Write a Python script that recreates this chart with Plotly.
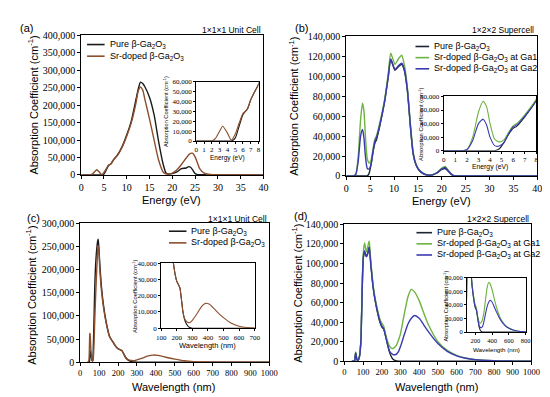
import plotly.graph_objects as go

# ---------------- data ----------------
# (a) 1x1x1 unit cell, energy axis
energy_a = [0, 2, 2.5, 3, 3.4, 4, 4.5, 5, 5.5, 6, 6.3, 6.6, 7, 7.5, 8, 9, 10, 11, 12, 12.5, 13,
            13.5, 14, 15, 16, 17, 18, 18.6, 19, 20, 21, 22, 23, 23.6, 24, 24.5, 25, 25.5, 26,
            27, 28, 29, 30, 40]
pure_a = [0, 0, 0, 0, 0, 0, 0, 3000, 15000, 27000, 30000, 33000, 42000, 50000, 58000, 82000,
          115000, 155000, 215000, 245000, 266000, 262000, 252000, 222000, 172000, 95000, 30000,
          6000, 3000, 4000, 9000, 18000, 20000, 24000, 22000, 14000, 4000, 1000, 500, 500, 300,
          200, 0, 0]
sr_a = [0, 0, 3000, 10000, 15000, 8000, 1000, 7000, 18000, 28000, 30000, 33000, 42000, 50000,
        57000, 80000, 112000, 150000, 205000, 240000, 252000, 243000, 215000, 160000, 100000,
        42000, 8000, 3000, 2000, 5000, 15000, 30000, 48000, 58000, 62000, 62000, 52000, 35000,
        18000, 5000, 2000, 800, 0, 0]

# (b) 1x2x2 supercell, energy axis
energy_b = [0, 1.5, 2, 2.5, 3, 3.4, 3.7, 4, 4.4, 4.8, 5.2, 5.6, 6, 6.3, 7, 8, 8.8, 9.3, 10.2,
            11, 11.6, 12.2, 12.8, 13.5, 14, 14.6, 15.2, 16, 17, 18, 19, 20, 20.7, 21.3, 22,
            22.5, 24, 40]
pure_b = [0, 0, 0, 0, 0, 0, 0, 0, 0, 3000, 12000, 24000, 33000, 36000, 50000, 74000, 100000,
          117000, 106000, 110000, 112000, 105000, 85000, 45000, 22000, 11000, 6000, 2500, 800,
          1000, 3000, 6500, 7500, 5000, 1500, 300, 0, 0]
ga1_b = [0, 0, 2000, 20000, 57000, 73000, 65000, 40000, 17000, 13000, 16000, 27000, 37000,
         40000, 53000, 76000, 103000, 123000, 112000, 118000, 121000, 110000, 88000, 48000,
         24000, 12000, 6500, 3000, 1000, 1200, 3500, 8000, 9500, 6000, 2000, 400, 0, 0]
ga2_b = [0, 0, 1500, 15000, 40000, 46500, 38000, 20000, 7500, 7000, 12000, 25000, 35000,
         38000, 51000, 74000, 100000, 117000, 107000, 111000, 113000, 106000, 86000, 46000,
         23000, 11500, 6200, 2800, 900, 1100, 3200, 7000, 8500, 5500, 1800, 350, 0, 0]

# (c) 1x1x1 unit cell, wavelength axis
wl_c = [40, 44, 46, 47.7, 48.6, 49.6, 50.6, 51.7, 52.5, 54, 56, 59, 62, 65, 67, 69, 73, 77.5,
        83, 89, 92, 95, 99, 103, 113, 124, 138, 155, 177, 190, 200, 210, 220, 230, 240, 250,
        260, 270, 280, 290, 300, 320, 340, 360, 385, 410, 440, 470, 500, 550, 600, 650, 700,
        800, 1000]
pure_c = [0, 300, 400, 500, 1000, 4000, 14000, 22000, 24000, 20000, 18000, 9000, 4000, 3000,
          6000, 30000, 95000, 172000, 222000, 252000, 262000, 266000, 245000, 215000, 160000,
          120000, 85000, 56000, 41000, 33000, 29000, 27000, 25000, 18000, 10000, 5500, 3000,
          1500, 600, 200, 0, 0, 0, 0, 0, 0, 0, 0, 0, 0, 0, 0, 0, 0, 0]
sr_c = [0, 2000, 5000, 18000, 35000, 52000, 62000, 62000, 58000, 48000, 30000, 15000, 5000,
        2000, 3000, 8000, 42000, 100000, 160000, 215000, 243000, 252000, 240000, 205000,
        152000, 116000, 83000, 55000, 41000, 33000, 29000, 27000, 25000, 18000, 10000, 6000,
        4500, 3700, 3400, 3800, 4800, 7500, 10500, 13500, 15300, 14700, 12000, 9000, 6500,
        3000, 1200, 400, 100, 0, 0]

# (d) 1x2x2 supercell, wavelength axis
wl_d = [40, 52, 55, 58, 60, 62, 65, 69, 73, 78, 82, 85, 89, 92, 97, 101, 108, 118, 126, 133,
        141, 148, 155, 165, 177, 190, 200, 210, 220, 230, 240, 250, 260, 270, 280, 290, 300,
        320, 340, 358, 375, 400, 425, 450, 500, 550, 600, 650, 700, 800, 900, 1000]
pure_d = [0, 0, 300, 4000, 8000, 7000, 3500, 1000, 800, 2500, 6000, 11000, 22000, 45000, 85000,
          105000, 112000, 107000, 111000, 117000, 100000, 86000, 74000, 62000, 50000, 40000,
          35000, 33000, 26000, 18000, 10000, 5000, 2000, 800, 200, 0, 0, 0, 0, 0, 0, 0, 0, 0,
          0, 0, 0, 0, 0, 0, 0, 0]
ga1_d = [0, 0, 400, 5000, 9500, 8000, 4000, 1200, 1000, 3000, 6500, 12000, 24000, 48000, 88000,
         110000, 121000, 112000, 118000, 123000, 103000, 89000, 76000, 64000, 53000, 43000,
         39000, 36000, 28000, 21000, 16000, 13500, 13000, 14500, 17000, 22000, 28000, 48000,
         66000, 73500, 71000, 62000, 49000, 37000, 20000, 11000, 6000, 3000, 1500, 400, 100, 0]
ga2_d = [0, 0, 350, 4500, 8500, 7500, 3800, 1100, 900, 2800, 6200, 11500, 23000, 46000, 86000,
         106000, 113000, 107000, 111000, 117000, 100000, 86000, 74000, 62000, 51000, 41000,
         36000, 33500, 26000, 18000, 11000, 8000, 6800, 6600, 7500, 10000, 15000, 27000, 38000,
         44000, 46800, 44000, 37000, 30000, 18000, 10000, 5500, 3000, 1500, 400, 100, 0]

# labels
lbl_pure = "Pure β-Ga<sub>2</sub>O<sub>3</sub>"
lbl_sr = "Sr-doped β-Ga<sub>2</sub>O<sub>3</sub>"
lbl_ga1 = "Sr-doped β-Ga<sub>2</sub>O<sub>3</sub> at Ga1"
lbl_ga2 = "Sr-doped β-Ga<sub>2</sub>O<sub>3</sub> at Ga2"
ytitle = "Absorption Coefficient (cm<sup>-1</sup>)"

# ---------------- styling ----------------
W, H = 550, 397
C_PURE = "#1a1a1a"
C_PURE2 = "#1c2433"
C_SR = "#8c4f2e"
C_GA1 = "#6cb33f"
C_GA2 = "#3a3ab0"
SANS = "Liberation Sans"
SERIF = "Liberation Serif"


def X(px):
    return px / W


def Y(py):
    return 1 - py / H


fig = go.Figure()

# axes: (id, x px range, y px range, xrange, xdtick, yrange, ydtick, y font, x font, xtick0)
axes = [
    (1, (70, 257), (22, 166), [0, 40], 5, [0, 400000], 50000, 10, 10, 0),
    (2, (342, 538), (23, 167), [0, 40], 5, [0, 140000], 20000, 10, 10, 0),
    (3, (69, 263), (216, 359), [0, 1000], 100, [0, 300000], 50000, 10, 8.5, 0),
    (4, (340, 532), (217, 358), [0, 1000], 100, [0, 140000], 20000, 10, 8.5, 0),
    (5, (188, 252), (70, 131), [0, 8], 1, [0, 60000], 10000, 7, 7, 0),
    (6, (442, 537), (85, 141), [0, 8], 1, [0, 80000], 20000, 7, 7, 0),
    (7, (152, 248), (257, 324), [100, 700], 100, [0, 40000], 10000, 7, 7, 0),
    (8, (466, 526), (272, 328), [100, 800], 200, [0, 80000], 20000, 6.5, 6.5, 200),
]

for (i, xp, yp, xr, dx, yr, dy, yfs, xfs, x0) in axes:
    sfx = "" if i == 1 else str(i)
    common = dict(showgrid=False, zeroline=False, showline=True, linecolor="black",
                  linewidth=1, mirror=True, ticks="outside", ticklen=3 if i <= 4 else 2,
                  tickwidth=1, tickcolor="black")
    fig.layout["xaxis" + sfx] = dict(
        domain=[X(xp[0]), X(xp[1])], range=xr, dtick=dx, tick0=x0,
        anchor="y" + sfx, tickfont=dict(family=SERIF, size=xfs, color="black"), **common)
    fig.layout["yaxis" + sfx] = dict(
        domain=[Y(yp[1]), Y(yp[0])], range=yr, dtick=dy, tickformat=",d",
        anchor="x" + sfx, tickfont=dict(family=SERIF, size=yfs, color="black"), **common)


def add(x, y, color, ax, width=1.4):
    sfx = "" if ax == 1 else str(ax)
    fig.add_trace(go.Scatter(x=x, y=y, mode="lines", showlegend=False,
                             line=dict(color=color, width=width, shape="spline", smoothing=0.6),
                             xaxis="x" + sfx, yaxis="y" + sfx, hoverinfo="skip"))


for ax, w in ((1, 1.4), (5, 1.1)):
    add(energy_a, pure_a, C_PURE, ax, w)
    add(energy_a, sr_a, C_SR, ax, w)
for ax, w in ((2, 1.4), (6, 1.1)):
    add(energy_b, pure_b, C_PURE2, ax, w)
    add(energy_b, ga1_b, C_GA1, ax, w)
    add(energy_b, ga2_b, C_GA2, ax, w)
for ax, w in ((3, 1.4), (7, 1.1)):
    add(wl_c, pure_c, C_PURE, ax, w)
    add(wl_c, sr_c, C_SR, ax, w)
for ax, w in ((4, 1.4), (8, 1.1)):
    add(wl_d, pure_d, C_PURE2, ax, w)
    add(wl_d, ga1_d, C_GA1, ax, w)
    add(wl_d, ga2_d, C_GA2, ax, w)

ann = []
shapes = []


def text(s, x, y, size, xanchor="center", yanchor="middle", angle=0, family=SANS):
    ann.append(dict(text=s, x=X(x), y=Y(y), xref="paper", yref="paper", showarrow=False,
                    xanchor=xanchor, yanchor=yanchor, textangle=angle,
                    font=dict(family=family, size=size, color="black")))


# panel letters & cell labels
text("(a)", 5, 14, 11, xanchor="left")
text("(b)", 287, 14, 11, xanchor="left")
text("(c)", 12, 210, 11, xanchor="left")
text("(d)", 286, 208, 11, xanchor="left")
text("1×1×1 Unit Cell", 257, 16, 8.5, xanchor="right")
text("1×2×2 Supercell", 537, 16, 8.5, xanchor="right")
text("1×1×1 Unit Cell", 263, 211, 8.5, xanchor="right")
text("1×2×2 Supercell", 532, 211, 8.5, xanchor="right")

# main axis titles
text("Energy (eV)", 163, 192, 11)
text("Energy (eV)", 440, 193, 11)
text("Wavelength (nm)", 165, 385, 11)
text("Wavelength (nm)", 435, 385, 11)
text(ytitle, 21, 94, 11, angle=-90)
text(ytitle, 288, 95, 11, angle=-90)
text(ytitle, 19, 290, 11, angle=-90)
text(ytitle, 292, 288, 11, angle=-90)

# inset axis titles
text("Energy (eV)", 220, 148.5, 6.5)
text(ytitle, 157, 101, 5.6, angle=-90)
text("Energy (eV)", 489, 157.5, 6.8)
text(ytitle, 418, 113, 5.8, angle=-90)
text("Wavelength (nm)", 200, 341.5, 7.5)
text(ytitle, 124, 291, 5.8, angle=-90)
text("Wavelength (nm)", 496, 346, 6.2)
text(ytitle, 444, 301, 5.6, angle=-90)


# legends (line samples + text)
def legend_item(x0, x1, y, color, label, size=9):
    shapes.append(dict(type="line", xref="paper", yref="paper", x0=X(x0), x1=X(x1),
                       y0=Y(y), y1=Y(y), line=dict(color=color, width=1.6)))
    text(label, x1 + 3, y, size, xanchor="left")


legend_item(76, 94, 31.5, C_PURE, lbl_pure)
legend_item(76, 94, 43.5, C_SR, lbl_sr)
legend_item(413, 427, 33.5, C_PURE2, lbl_pure)
legend_item(413, 427, 45, C_GA1, lbl_ga1)
legend_item(413, 427, 56.5, C_GA2, lbl_ga2)
legend_item(160, 178, 224, C_PURE, lbl_pure)
legend_item(160, 178, 236, C_SR, lbl_sr)
legend_item(414, 430, 225.5, C_PURE2, lbl_pure)
legend_item(414, 430, 237, C_GA1, lbl_ga1)
legend_item(414, 430, 248.5, C_GA2, lbl_ga2)

fig.update_layout(width=W, height=H, autosize=False,
                  margin=dict(l=0, r=0, t=0, b=0, pad=0),
                  paper_bgcolor="white", plot_bgcolor="white",
                  annotations=ann, shapes=shapes, showlegend=False)

fig.write_html("out.html")
